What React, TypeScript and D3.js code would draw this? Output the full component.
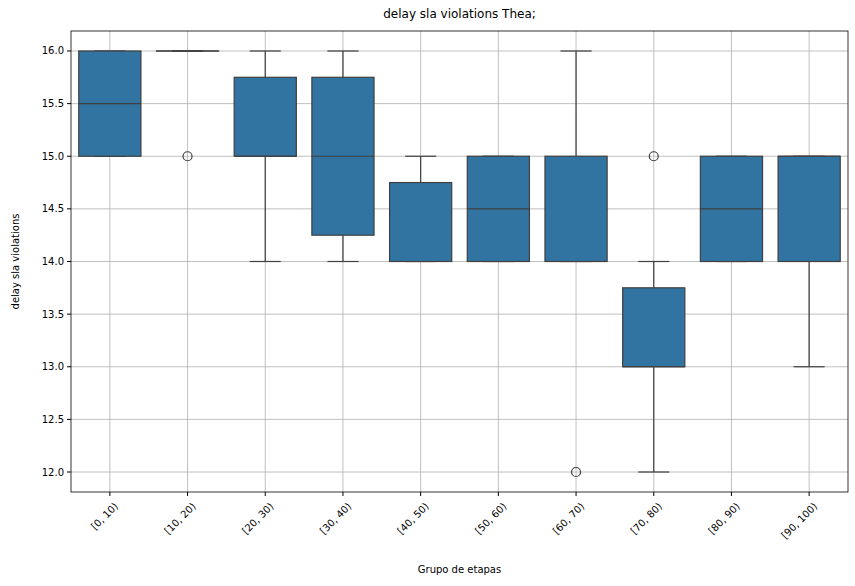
import React from 'react';
import * as d3 from 'd3';

const groups = ['[0, 10)', '[10, 20)', '[20, 30)', '[30, 40)', '[40, 50)', '[50, 60)', '[60, 70)', '[70, 80)', '[80, 90)', '[90, 100)'];
const lowWhisker = [15, 16, 14, 14, 14, 14, 14, 12, 14, 13];
const q1 = [15, 16, 15, 14.25, 14, 14, 14, 13, 14, 14];
const median = [15.5, 16, 15, 15, 14, 14.5, 14, 13, 14.5, 15];
const q3 = [16, 16, 15.75, 15.75, 14.75, 15, 15, 13.75, 15, 15];
const highWhisker = [16, 16, 16, 16, 15, 15, 16, 14, 15, 15];
const outliers: number[][] = [[], [15], [], [], [], [], [12], [15], [], []];
const yTicks = [12, 12.5, 13, 13.5, 14, 14.5, 15, 15.5, 16];

const W = 855, H = 586;
const m = { left: 71, right: 848, top: 31, bottom: 492 };

export default function App() {
  const x = d3.scaleBand<string>().domain(groups).range([m.left, m.right]);
  const y = d3.scaleLinear().domain([11.81, 16.19]).range([m.bottom, m.top]);
  const bw = x.bandwidth() * 0.8;
  const line = '#3f3f3f';
  const font = 'DejaVu Sans, sans-serif';
  return (
    <svg width={W} height={H} style={{ position: 'absolute', left: 0, top: 0 }} fontFamily={font}>
      <rect width={W} height={H} fill="#fff" />
      {groups.map((g) => {
        const cx = x(g)! + x.bandwidth() / 2;
        return <line key={g} x1={cx} x2={cx} y1={m.top} y2={m.bottom} stroke="#b0b0b0" strokeWidth={0.8} />;
      })}
      {yTicks.map((t) => (
        <line key={t} x1={m.left} x2={m.right} y1={y(t)} y2={y(t)} stroke="#b0b0b0" strokeWidth={0.8} />
      ))}
      {groups.map((g, i) => {
        const cx = x(g)! + x.bandwidth() / 2;
        return (
          <g key={g} stroke={line} strokeWidth={1.2}>
            <line x1={cx} x2={cx} y1={y(q3[i])} y2={y(highWhisker[i])} />
            <line x1={cx} x2={cx} y1={y(q1[i])} y2={y(lowWhisker[i])} />
            <line x1={cx - bw / 4} x2={cx + bw / 4} y1={y(highWhisker[i])} y2={y(highWhisker[i])} />
            <line x1={cx - bw / 4} x2={cx + bw / 4} y1={y(lowWhisker[i])} y2={y(lowWhisker[i])} />
            <rect x={cx - bw / 2} width={bw} y={y(q3[i])} height={Math.max(0.01, y(q1[i]) - y(q3[i]))} fill="#3274a1" />
            <line x1={cx - bw / 2} x2={cx + bw / 2} y1={y(median[i])} y2={y(median[i])} />
            {outliers[i].map((o, j) => (
              <circle key={j} cx={cx} cy={y(o)} r={4.5} fill="none" />
            ))}
          </g>
        );
      })}
      <rect x={m.left} y={m.top} width={m.right - m.left} height={m.bottom - m.top} fill="none" stroke="#000" strokeWidth={0.8} />
      {yTicks.map((t) => (
        <g key={t}>
          <line x1={m.left - 4} x2={m.left} y1={y(t)} y2={y(t)} stroke="#000" />
          <text x={m.left - 7} y={y(t)} dy="0.35em" textAnchor="end" fontSize={10}>{t.toFixed(1)}</text>
        </g>
      ))}
      {groups.map((g) => {
        const cx = x(g)! + x.bandwidth() / 2;
        return (
          <g key={g}>
            <line x1={cx} x2={cx} y1={m.bottom} y2={m.bottom + 4} stroke="#000" />
            <text transform={`translate(${cx + 4},${m.bottom + 10}) rotate(-45)`} textAnchor="end" dy="0.7em" fontSize={10}>{g}</text>
          </g>
        );
      })}
      <text x={(m.left + m.right) / 2} y={573} textAnchor="middle" fontSize={10}>Grupo de etapas</text>
      <text transform={`translate(19,${(m.top + m.bottom) / 2}) rotate(-90)`} textAnchor="middle" fontSize={10}>delay sla violations</text>
      <text x={(m.left + m.right) / 2} y={18} textAnchor="middle" fontSize={12}>delay sla violations Thea;</text>
    </svg>
  );
}
